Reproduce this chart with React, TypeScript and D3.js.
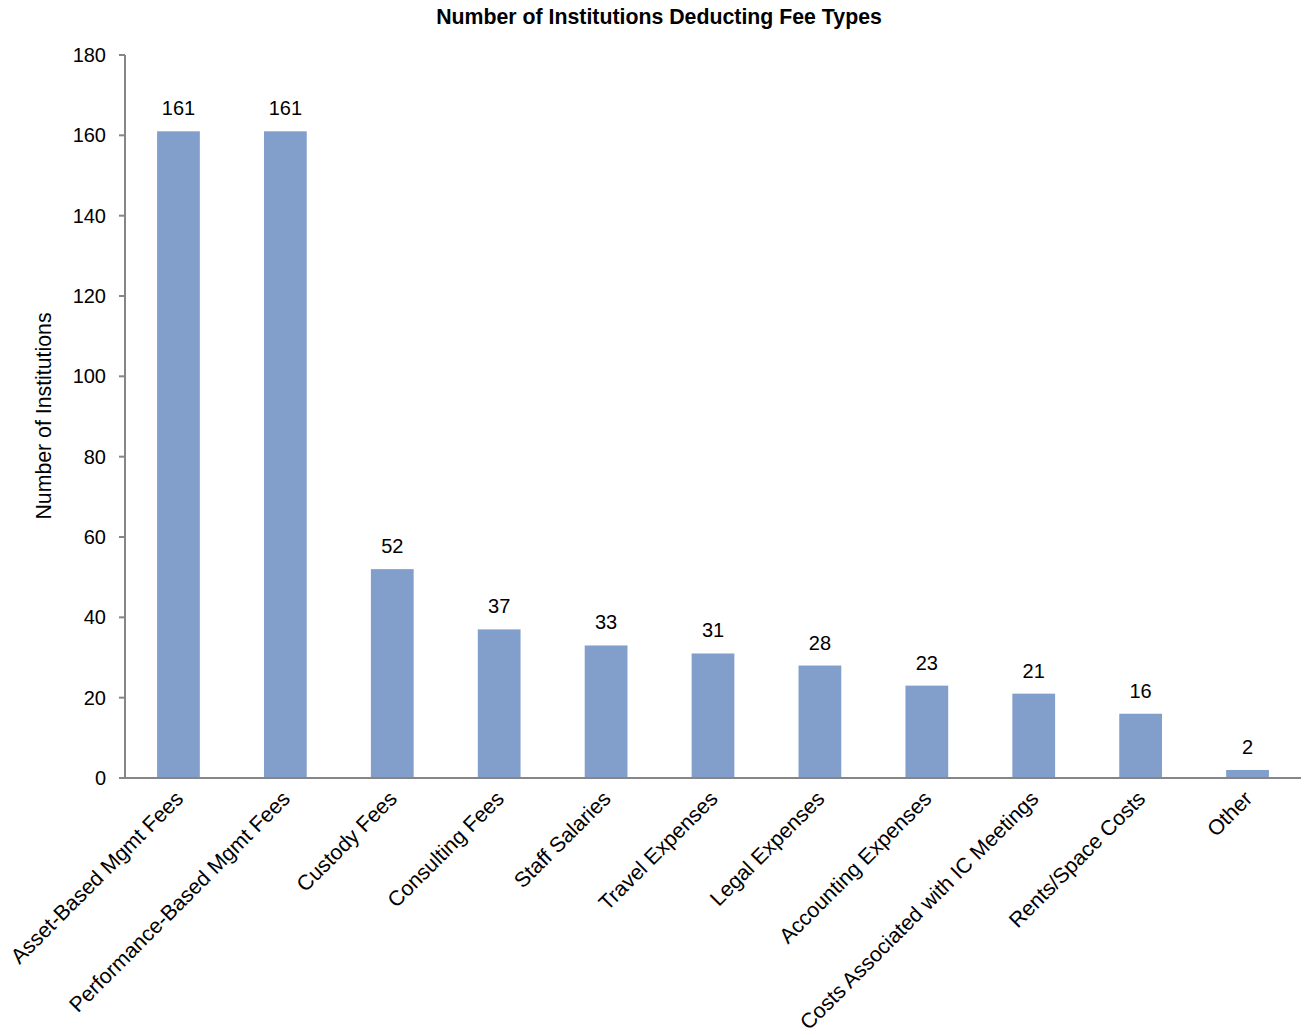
import React from "react";
import * as d3 from "d3";

const categories = [
  "Asset-Based Mgmt Fees",
  "Performance-Based Mgmt Fees",
  "Custody Fees",
  "Consulting Fees",
  "Staff Salaries",
  "Travel Expenses",
  "Legal Expenses",
  "Accounting Expenses",
  "Costs Associated with IC Meetings",
  "Rents/Space Costs",
  "Other",
];
const values = [161, 161, 52, 37, 33, 31, 28, 23, 21, 16, 2];
const yTicks = [0, 20, 40, 60, 80, 100, 120, 140, 160, 180];

const W = 1309;
const H = 1036;
const left = 125;
const right = 1301;
const top = 55;
const bottom = 778;
const font = "Arial, 'Liberation Sans', Helvetica, sans-serif";

export default function App() {
  const x = d3.scaleBand<string>().domain(categories).range([left, right]).paddingInner(0.6).paddingOuter(0.3);
  const y = d3.scaleLinear().domain([0, 180]).range([bottom, top]);
  const cx = (c: string) => (x(c) as number) + x.bandwidth() / 2;
  return (
    <div style={{ position: "absolute", left: 0, top: 0 }}>
      <svg width={W} height={H} style={{ display: "block", fontFamily: font }}>
        <rect width={W} height={H} fill="#fff" />
        <text x={659} y={24} textAnchor="middle" fontSize={21.3} fontWeight="bold" fill="#000">
          Number of Institutions Deducting Fee Types
        </text>
        {categories.map((c, i) => (
          <g key={c}>
            <rect x={x(c)} y={y(values[i])} width={x.bandwidth()} height={y(0) - y(values[i])} fill="#829FCB" />
            <text x={cx(c)} y={y(values[i]) - 16} textAnchor="middle" fontSize={20} fill="#000">
              {values[i]}
            </text>
            <text
              transform={`translate(${cx(c) + 6},${bottom + 22}) rotate(-45)`}
              textAnchor="end"
              fontSize={21.3}
              fill="#000"
            >
              {c}
            </text>
          </g>
        ))}
        <line x1={left} x2={left} y1={top} y2={bottom} stroke="#868686" strokeWidth={2} />
        <line x1={left} x2={right} y1={bottom} y2={bottom} stroke="#868686" strokeWidth={2} />
        {yTicks.map((t) => (
          <g key={t}>
            <line x1={left - 6} x2={left} y1={y(t)} y2={y(t)} stroke="#868686" strokeWidth={2} />
            <text x={106} y={y(t)} dy="0.35em" textAnchor="end" fontSize={20} fill="#000">
              {t}
            </text>
          </g>
        ))}
        <text transform={`translate(51,416) rotate(-90)`} textAnchor="middle" fontSize={21.3} fill="#000">
          Number of Institutions
        </text>
      </svg>
    </div>
  );
}
